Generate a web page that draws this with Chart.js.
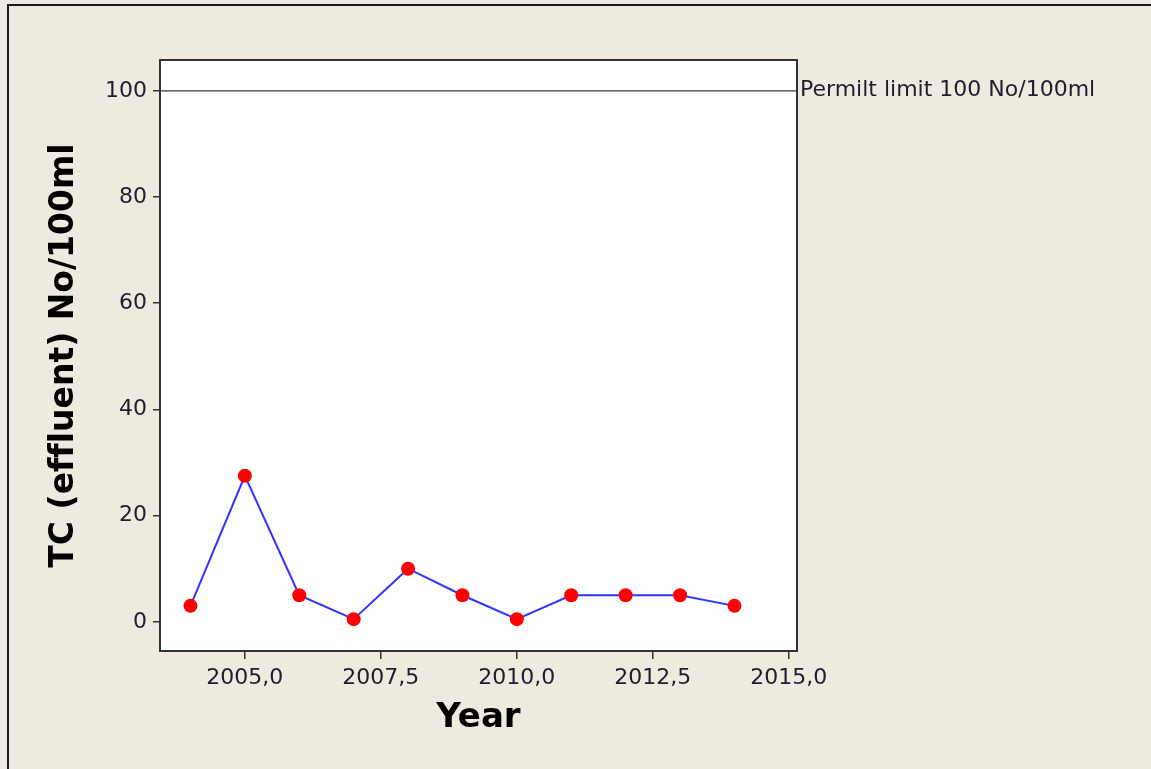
<!DOCTYPE html>
<html lang="en">
<head>
    <meta charset="UTF-8">
    <title>TC (effluent) by Year</title>
    <script src="https://cdn.jsdelivr.net/npm/chart.js"></script>
    <style>
        html, body { margin: 0; padding: 0; background: #eeeae0; }
        canvas { display: block; }
    </style>
</head>
<body>
    <canvas id="tcChart" width="1151" height="769"></canvas>

    <script>
        // data
        const years = [2004, 2005, 2006, 2007, 2008, 2009, 2010, 2011, 2012, 2013, 2014];
        const tcValues = [3, 27.5, 5, 0.5, 10, 5, 0.5, 5, 5, 5, 3];
        const xTicks = [2005, 2007.5, 2010, 2012.5, 2015];
        const yTicks = [0, 20, 40, 60, 80, 100];
        const permitLimit = 100;
        const permitLabel = 'Permilt limit 100 No/100ml';

        const textColor = '#1e1e2e';
        const frameColor = '#333333';

        const panelPlugin = {
            id: 'panel',
            beforeDraw(chart) {
                const { ctx, chartArea: a } = chart;
                ctx.save();
                ctx.fillStyle = '#eeeae0';
                ctx.fillRect(0, 0, chart.width, chart.height);
                // outer frame (only left & top edges show)
                ctx.strokeStyle = '#1a1a1a';
                ctx.lineWidth = 2;
                ctx.beginPath();
                ctx.moveTo(8, chart.height);
                ctx.lineTo(8, 5);
                ctx.lineTo(chart.width, 5);
                ctx.stroke();
                ctx.fillStyle = '#ffffff';
                ctx.fillRect(a.left, a.top, a.right - a.left, a.bottom - a.top);
                ctx.restore();
            },
            beforeDatasetsDraw(chart) {
                const { ctx, chartArea: a } = chart;
                const y = chart.scales.y.getPixelForValue(permitLimit);
                ctx.save();
                ctx.strokeStyle = '#3a3a3a';
                ctx.lineWidth = 1.2;
                ctx.beginPath();
                ctx.moveTo(a.left, y);
                ctx.lineTo(a.right, y);
                ctx.stroke();
                ctx.fillStyle = textColor;
                ctx.font = '22px "DejaVu Sans"';
                ctx.textBaseline = 'middle';
                ctx.textAlign = 'left';
                ctx.fillText(permitLabel, a.right + 3, y - 1);
                ctx.restore();
            },
            afterDraw(chart) {
                const { ctx, chartArea: a } = chart;
                ctx.save();
                ctx.strokeStyle = frameColor;
                ctx.lineWidth = 2;
                ctx.strokeRect(a.left, a.top, a.right - a.left, a.bottom - a.top);
                ctx.restore();
            }
        };

        const ctx = document.getElementById('tcChart').getContext('2d');
        const tcChart = new Chart(ctx, {
            type: 'line',
            data: {
                datasets: [{
                    label: 'TC (effluent)',
                    data: years.map((yr, i) => ({ x: yr, y: tcValues[i] })),
                    borderColor: '#3333ff',
                    borderWidth: 2,
                    pointBackgroundColor: '#ff0000',
                    pointBorderColor: '#ff0000',
                    pointRadius: 7,
                    pointBorderWidth: 0,
                    tension: 0
                }]
            },
            options: {
                responsive: false,
                animation: false,
                layout: { padding: { left: 0, top: 60, right: 354, bottom: 0 } },
                plugins: {
                    legend: { display: false },
                    tooltip: { enabled: false }
                },
                scales: {
                    x: {
                        type: 'linear',
                        min: 2003.44,
                        max: 2015.15,
                        afterBuildTicks: (s) => { s.ticks = xTicks.map(v => ({ value: v })); },
                        afterFit: (s) => { s.height = 118; },
                        grid: { drawOnChartArea: false, tickLength: 8, color: frameColor, lineWidth: 1.5 },
                        border: { display: false },
                        ticks: {
                            padding: 6,
                            maxRotation: 0,
                            color: textColor,
                            font: { family: 'DejaVu Sans', size: 22 },
                            callback: (v) => v.toFixed(1).replace('.', ',')
                        },
                        title: {
                            display: true,
                            text: 'Year',
                            color: '#000000',
                            font: { family: 'DejaVu Sans', size: 34, weight: 'bold' },
                            padding: { top: 0, bottom: 30 }
                        }
                    },
                    y: {
                        min: -5.5,
                        max: 105.8,
                        afterBuildTicks: (s) => { s.ticks = yTicks.map(v => ({ value: v })); },
                        afterFit: (s) => { s.width = 160; },
                        grid: { drawOnChartArea: false, tickLength: 7, color: frameColor, lineWidth: 1.5 },
                        border: { display: false },
                        ticks: {
                            padding: 6,
                            color: textColor,
                            font: { family: 'DejaVu Sans', size: 22 }
                        },
                        title: {
                            display: true,
                            // zero-width non-joiners keep "ffl" from turning into a ligature
                            text: 'TC (ef\u200Cf\u200Cluent) No/100ml',
                            color: '#000000',
                            font: { family: 'DejaVu Sans', size: 33, weight: 'bold' },
                            padding: { top: 45, bottom: 0 }
                        }
                    }
                }
            },
            plugins: [panelPlugin]
        });
    </script>
</body>
</html>
